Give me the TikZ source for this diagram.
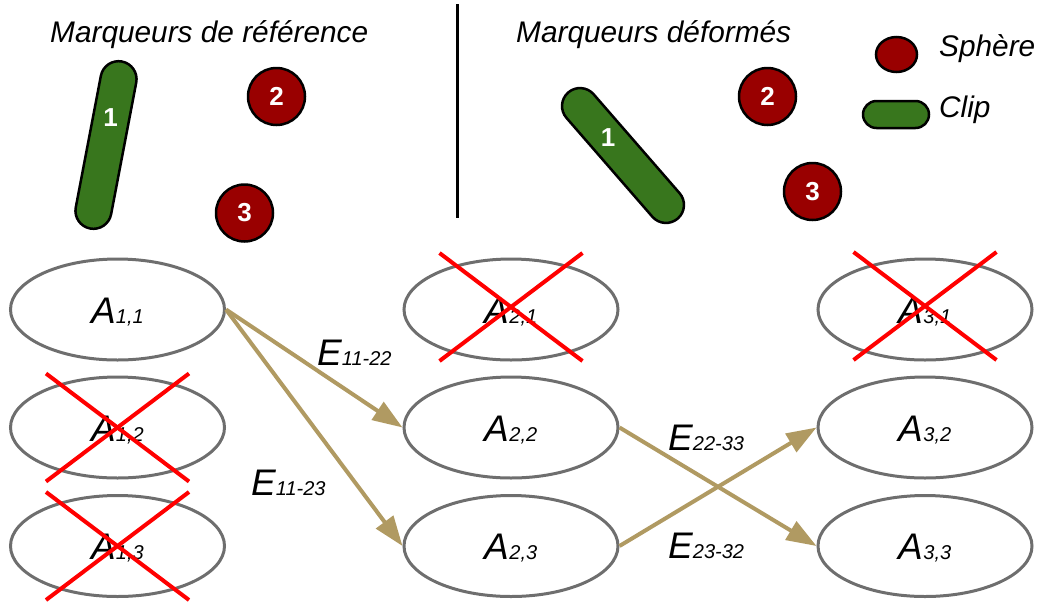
\documentclass[tikz,border=0pt]{standalone}
\usepackage{fontspec}
\setmainfont{Liberation Sans}
\usetikzlibrary{shapes.geometric,shapes.misc,arrows.meta,calc}
\definecolor{sphred}{RGB}{153,0,0}
\definecolor{clipgreen}{RGB}{56,118,29}
\definecolor{arrowtan}{RGB}{176,154,98}
\definecolor{ellgray}{RGB}{110,110,110}
\newcommand\subtxt[1]{{\fontsize{20}{22}\selectfont #1}}
\begin{document}
\begin{tikzpicture}[x=1pt,y=-1pt,
  state/.style={ellipse, draw=ellgray, line width=3pt, minimum width=214pt, minimum height=101pt,
    inner sep=0pt, text height=27pt, text depth=0pt, font=\fontsize{37}{40}\selectfont\itshape},
  crossline/.style={draw=red, line width=4pt},
  conn/.style={draw=arrowtan, line width=4pt, -{Triangle[length=30pt,width=21pt]}},
  elabel/.style={anchor=base west, inner sep=0pt, font=\fontsize{37}{40}\selectfont\itshape},
  title/.style={anchor=base west, inner sep=0pt, font=\fontsize{29.8}{34}\selectfont\itshape},
  sphere/.style={circle, draw=black, line width=2.5pt, fill=sphred, minimum size=57pt, inner sep=0pt,
    text=white, font=\fontsize{26}{28}\selectfont\bfseries},
  clipshape/.style={rounded rectangle, draw=black, line width=2.5pt, fill=clipgreen, inner sep=0pt},
  cliplabel/.style={text=white, inner sep=0pt, font=\fontsize{26}{28}\selectfont\bfseries}
]
\useasboundingbox (0,0) rectangle (1037,606);

% titles and divider
\node[title] (t1) at (50,42) {Marqueurs de référence};
\node[title] (t2) at (516,42) {Marqueurs déformés};
\draw[line width=3pt] (457,4) -- (457,218);

% legend
\node[ellipse, draw=black, line width=2.5pt, fill=sphred, minimum width=41pt, minimum height=35pt, inner sep=0pt] (legS) at (896.5,54.5) {};
\node[title] (legSt) at (939,56) {Sphère};
\node[clipshape, minimum width=66pt, minimum height=27pt] (legC) at (896,114.5) {};
\node[title] (legCt) at (939,117) {Clip};

% reference markers
\node[clipshape, minimum width=170pt, minimum height=36pt, rotate=79.2] (clipR) at (106,145) {};
\node[cliplabel] (clipRl) at (110.5,117.5) {1};
\node[sphere] (sR2) at (276.5,96.5) {2};
\node[sphere] (sR3) at (244.5,213) {3};

% deformed markers
\node[clipshape, minimum width=167pt, minimum height=36pt, rotate=-49] (clipD) at (623,155.5) {};
\node[cliplabel] (clipDl) at (608,137.5) {1};
\node[sphere] (sD2) at (767.5,96.5) {2};
\node[sphere] (sD3) at (812.5,191.5) {3};

% states
\node[state] (A11) at (117.5,309.5) {A\subtxt{1,1}};
\node[state] (A12) at (117.5,427.5) {A\subtxt{1,2}};
\node[state] (A13) at (117.5,546) {A\subtxt{1,3}};
\node[state] (A21) at (511,309.5) {A\subtxt{2,1}};
\node[state] (A22) at (511,427.5) {A\subtxt{2,2}};
\node[state] (A23) at (511,546) {A\subtxt{2,3}};
\node[state] (A31) at (925,309.5) {A\subtxt{3,1}};
\node[state] (A32) at (925,427.5) {A\subtxt{3,2}};
\node[state] (A33) at (925,546) {A\subtxt{3,3}};

% crosses
\foreach \n/\dy in {A12/0, A13/0, A21/-2.5, A31/-3.5}{
  \draw[crossline] ($(\n.center)+(-71.5,-54+\dy)$) -- ($(\n.center)+(71.5,54+\dy)$);
  \draw[crossline] ($(\n.center)+(71.5,-54+\dy)$) -- ($(\n.center)+(-71.5,54+\dy)$);
}

% connectors
\draw[conn] (A11.east) -- (A22.west);
\draw[conn] (A11.east) -- (A23.west);
\draw[conn] (A22.east) -- (A33.west);
\draw[conn] (A23.east) -- (A32.west);

% connector labels
\node[elabel] (e1122) at (317,365) {E\subtxt{11-22}};
\node[elabel] (e1123) at (251,495) {E\subtxt{11-23}};
\node[elabel] (e2233) at (668,450) {E\subtxt{22-33}};
\node[elabel] (e2332) at (668,558) {E\subtxt{23-32}};
\end{tikzpicture}
\end{document}
